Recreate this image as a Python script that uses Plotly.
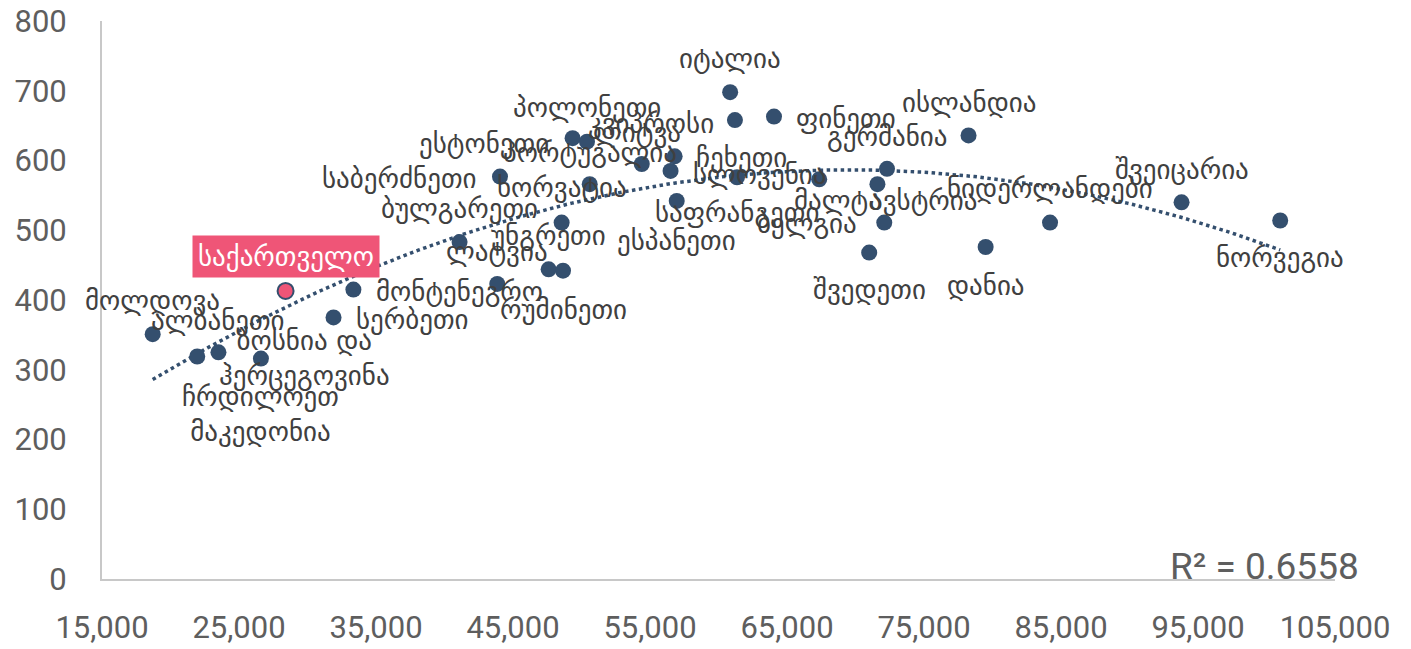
import numpy as np
import plotly.graph_objects as go

# ---- data ----
countries = ["მოლდოვა", "ბოსნია და<br>ჰერცეგოვინა", "ალბანეთი", "ჩრდილოეთ<br>მაკედონია", "საქართველო",
             "სერბეთი", "მონტენეგრო", "ბულგარეთი", "ლატვია", "უნგრეთი", "რუმინეთი", "ხორვატია",
             "საბერძნეთი", "პორტუგალია", "ესტონეთი", "პოლონეთი", "ლიტვა", "ჩეხეთი", "სლოვენია",
             "ესპანეთი", "იტალია", "კვიპროსი", "ფინეთი", "საფრანგეთი", "მალტა", "გერმანია",
             "ავსტრია", "ბელგია", "შვედეთი", "ისლანდია", "დანია", "ნიდერლანდები", "შვეიცარია", "ნორვეგია"]
gdp = [18700, 21950, 23500, 26600, 28400, 31900, 33350, 41100, 43850, 47600, 48650, 48550,
       44050, 50600, 49350, 50400, 54400, 56800, 56500, 56950, 60850, 61200, 64050, 61350, 67350,
       72300, 71600, 72100, 71000, 78250, 79500, 84200, 93800, 101000]
values = [351, 319, 325, 316, 413, 375, 415, 483, 423, 444, 442, 511,
          577, 566, 632, 627, 595, 606, 585, 542, 698, 658, 663, 576, 573,
          588, 566, 511, 468, 636, 476, 511, 540, 514]
highlight = "საქართველო"
x_ticks = list(range(15000, 105001, 10000))
y_ticks = list(range(0, 801, 100))
r2_text = "R² = 0.6558"

# label offsets (pixels, dx right, dy down) -- styling
label_offsets = [(0, -34), (107, 1), (0, -32), (0, 55), (0, -34),
                 (79, 2), (106, 2), (0, -34), (0, -32), (0, -34), (0, 39), (0, -35),
                 (-100, 2), (0, -32), (-89, 5), (0, -34), (-5, -31), (67, 1), (89, 4),
                 (0, 40), (0, -34), (-84, 3), (72, 2), (0, 35), (19, 21),
                 (0, -32), (46, 16), (-77, 1), (0, 37), (0, -33), (0, 39), (0, -34), (0, -33), (0, 37)]

DARK = "#344F6E"
PINK = "#EF5577"
GRAY = "#5E5E5E"
GEO_FONT = "DejaVu Sans"
NUM_FONT = "Roboto"
GEO_SIZE = 27

fig = go.Figure()

# trendline (2nd order polynomial fitted to the data)
coef = np.polyfit(gdp, values, 2)
xs = np.linspace(min(gdp), max(gdp), 200)
fig.add_trace(go.Scatter(x=xs, y=np.polyval(coef, xs), mode="lines",
                         line=dict(color=DARK, width=3.5, dash="dot"),
                         hoverinfo="skip", showlegend=False))

colors = [PINK if c == highlight else DARK for c in countries]
fig.add_trace(go.Scatter(x=gdp, y=values, mode="markers",
                         marker=dict(size=16, color=colors,
                                     line=dict(color=DARK, width=[2 if c == highlight else 0 for c in countries])),
                         text=[c.replace("<br>", " ") for c in countries],
                         hovertemplate="%{text}<br>%{x:,}<br>%{y}<extra></extra>",
                         showlegend=False))

for c, xv, yv, (dx, dy) in zip(countries, gdp, values, label_offsets):
    if c == highlight:
        fig.add_annotation(x=xv, y=yv, text=c, showarrow=False, xshift=dx, yshift=-dy,
                           xanchor="center", yanchor="middle",
                           font=dict(family=GEO_FONT, size=GEO_SIZE, color="white"),
                           bgcolor=PINK, borderpad=5)
    else:
        fig.add_annotation(x=xv, y=yv, text=c, showarrow=False, xshift=dx, yshift=-dy,
                           xanchor="center", yanchor="middle", align="center",
                           font=dict(family=GEO_FONT, size=GEO_SIZE, color="#404040"))

fig.add_annotation(xref="paper", yref="paper", x=1.021, y=0.022, xanchor="right", yanchor="middle",
                   text=r2_text, showarrow=False, font=dict(family=NUM_FONT, size=37, color=GRAY))

# the page body has an 8px margin: size the figure so its plot area lands on the reference pixels
fig.update_layout(
    width=1403, height=641,
    margin=dict(l=94, r=76, t=13, b=70),
    paper_bgcolor="white", plot_bgcolor="white",
    xaxis=dict(range=[15000, 105000], tickvals=x_ticks, tickformat=",d", automargin=False,
               showgrid=False, zeroline=False, showline=True, linecolor="#C8C8C8", linewidth=2,
               ticks="", ticklabelstandoff=20, ticklabeloverflow="allow",
               tickfont=dict(family=NUM_FONT, size=31, color=GRAY)),
    yaxis=dict(range=[0, 800], tickvals=y_ticks, automargin=False,
               showgrid=False, zeroline=False, showline=True, linecolor="#C8C8C8", linewidth=2,
               ticks="", ticklabelstandoff=27, ticklabeloverflow="allow",
               tickfont=dict(family=NUM_FONT, size=31, color=GRAY)),
)

fig.write_html("out.html")
